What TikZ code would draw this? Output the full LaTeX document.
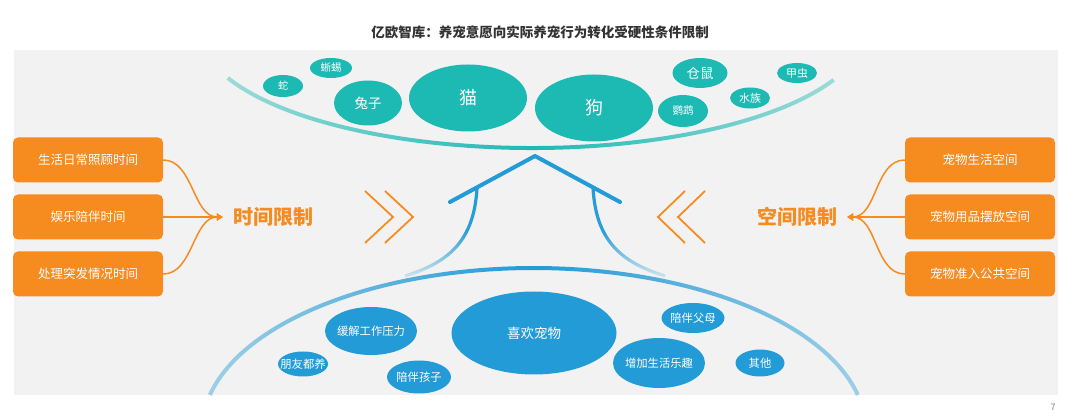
\documentclass[tikz,border=0pt]{standalone}
\usepackage{fontspec}
\setmainfont{Noto Sans CJK SC}
\usetikzlibrary{shapes.geometric,arrows.meta,fadings}

\definecolor{eoorange}{HTML}{F68B1F}
\definecolor{eoteal}{HTML}{1DBAB4}
\definecolor{eoblue}{HTML}{229BD6}
\definecolor{eobg}{HTML}{F2F2F2}
\definecolor{eotitle}{HTML}{333333}

\newcommand{\eofs}[1]{\fontsize{#1}{#1}\selectfont}
\newsavebox{\eotagbox}

\tikzfading[name=eoends, left color=transparent!60, right color=transparent!60, middle color=transparent!0]
\tikzfading[name=eodown, top color=transparent!0, bottom color=transparent!85, middle color=transparent!5]

\begin{document}
\begin{tikzpicture}[
        x=1pt, y=-1pt,
        limitbox/.style={
            rectangle,
            rounded corners=5pt,
            fill=eoorange,
            text=white,
            minimum width=150pt,
            minimum height=45pt,
            font=\eofs{12.5}
        },
        limitlabel/.style={
            text=eoorange,
            font=\eofs{20}\bfseries,
            inner xsep=10pt
        },
        link/.style={
            draw=eoorange,
            line width=1.5pt,
            -{Triangle[length=6pt,width=7pt]}
        },
        chevron/.style={draw=eoorange, line width=1.8pt},
        bubble/.style={
            ellipse,
            text=white,
            inner sep=0pt,
            execute at begin node={\setbox\eotagbox=\hbox\bgroup},
            execute at end node={\egroup\hbox to 0pt{\hss\usebox\eotagbox\hss}}
        },
        pet/.style={bubble, fill=eoteal, font=\eofs{11}},
        reason/.style={bubble, fill=eoblue, font=\eofs{11.3}}
    ]
    % canvas
    \useasboundingbox (0,0) rectangle (1080,419);
    \fill[eobg] (14,50) rectangle (1058,395);
    \node[text=eotitle, font=\eofs{13.5}\bfseries] (title) at (540,32)
        {亿欧智库：养宠意愿向实际养宠行为转化受硬性条件限制};
    \node[text=gray, font=\eofs{9}] (pagenum) at (1053,407) {7};

    % top arc with pets
    \draw[eoteal, line width=4pt, path fading=eoends]
        (228,78) arc[start angle=156, end angle=25, x radius=333, y radius=118];
    \node[pet, minimum width=40pt, minimum height=22pt, font=\eofs{10}] (snake) at (283,86) {蛇};
    \node[pet, minimum width=42pt, minimum height=20pt, font=\eofs{10.5}] (lizard) at (331,68) {蜥蜴};
    \node[pet, minimum width=68pt, minimum height=45pt, font=\eofs{13.5}] (rabbit) at (368,103) {兔子};
    \node[pet, minimum width=118pt, minimum height=67pt, font=\eofs{18}] (cat) at (468,98) {猫};
    \node[pet, minimum width=118pt, minimum height=67pt, font=\eofs{18}] (dog) at (594,108) {狗};
    \node[pet, minimum width=50pt, minimum height=32pt, font=\eofs{10.5}] (parrot) at (683,111) {鹦鹉};
    \node[pet, minimum width=55pt, minimum height=30pt, font=\eofs{13.5}] (hamster) at (700,73) {仓鼠};
    \node[pet, minimum width=40pt, minimum height=21pt] (fish) at (750,98) {水族};
    \node[pet, minimum width=40pt, minimum height=20pt] (beetle) at (797,73) {甲虫};

    % house
    \draw[eoblue, line width=4pt, line cap=round, line join=round] (450,202) -- (535,156) -- (620,202);
    \draw[eoblue, line width=3.2pt, path fading=eodown] (477,188) .. controls (474,240) and (450,262) .. (405,276);
    \draw[eoblue, line width=3.2pt, path fading=eodown] (593,188) .. controls (596,240) and (620,262) .. (665,276);

    % bottom arc with reasons
    \draw[eoblue, line width=4pt, path fading=eoends]
        (210,395) arc[start angle=192.5, end angle=347.5, x radius=332, y radius=162];
    \node[reason, minimum width=165pt, minimum height=83pt, font=\eofs{13.5}] (likepet) at (534,333) {喜欢宠物};
    \node[reason, minimum width=92pt, minimum height=48pt] (stress) at (371,331) {缓解工作压力};
    \node[reason, minimum width=50pt, minimum height=25pt] (friends) at (303,364) {朋友都养};
    \node[reason, minimum width=64pt, minimum height=33pt] (kids) at (419,377) {陪伴孩子};
    \node[reason, minimum width=63pt, minimum height=30pt] (parents) at (693,318) {陪伴父母};
    \node[reason, minimum width=92pt, minimum height=50pt] (fun) at (659,363) {增加生活乐趣};
    \node[reason, minimum width=49pt, minimum height=27pt] (others) at (760,363) {其他};

    % time limits
    \node[limitbox] (care) at (88,160) {生活日常照顾时间};
    \node[limitbox] (play) at (88,217) {娱乐陪伴时间};
    \node[limitbox] (emergency) at (88,274) {处理突发情况时间};
    \node[limitlabel] (timelimit) at (273,217) {时间限制};
    \foreach \b in {care,play,emergency}
        \draw[link] (\b.east) .. controls +(30,0) and +(-30,0) .. (timelimit.west);

    % space limits
    \node[limitbox] (living) at (980,160) {宠物生活空间};
    \node[limitbox] (supplies) at (980,217) {宠物用品摆放空间};
    \node[limitbox] (public) at (980,274) {宠物准入公共空间};
    \node[limitlabel] (spacelimit) at (797,217) {空间限制};
    \foreach \b in {living,supplies,public}
        \draw[link] (\b.west) .. controls +(-30,0) and +(30,0) .. (spacelimit.east);

    % chevrons
    \foreach \dx in {0,20} {
        \draw[chevron] (365+\dx,191) -- (393+\dx,217) -- (365+\dx,243);
        \draw[chevron] (685+\dx,191) -- (658+\dx,217) -- (685+\dx,243);
    }
\end{tikzpicture}
\end{document}
